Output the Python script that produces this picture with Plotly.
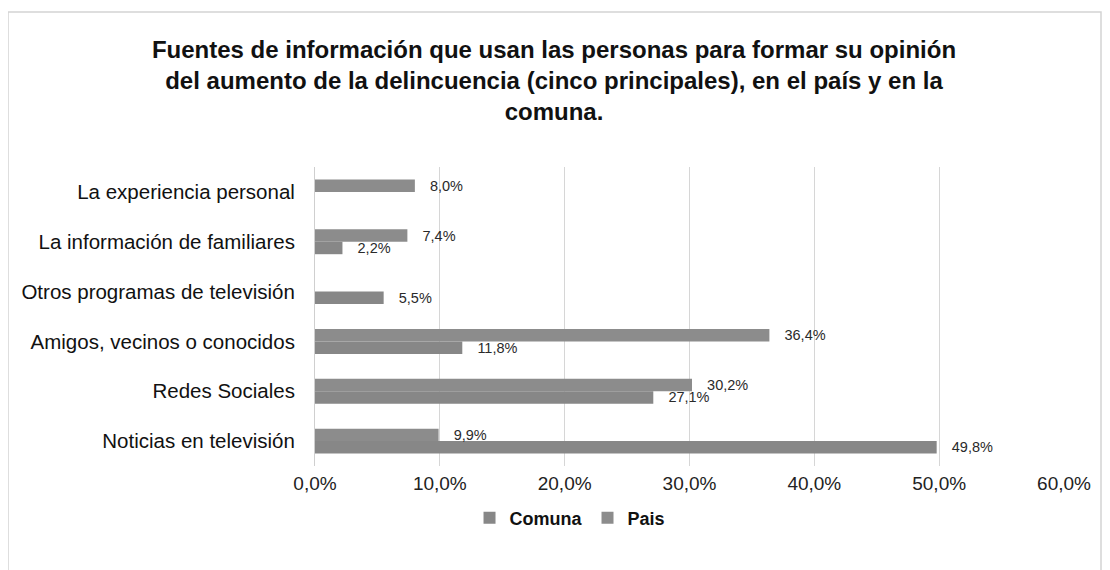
import plotly.graph_objects as go

categories = [
    "Noticias en televisión",
    "Redes Sociales",
    "Amigos, vecinos o conocidos",
    "Otros programas de televisión",
    "La información de familiares",
    "La experiencia personal",
]
comuna = [49.8, 27.1, 11.8, 5.5, 2.2, None]
pais = [9.9, 30.2, 36.4, None, 7.4, 8.0]
x_ticks = [0, 10, 20, 30, 40, 50, 60]

font = "Liberation Sans, Arial"
pad = "\u00a0\u00a0\u00a0"


def fmt(v):
    return None if v is None else pad + f"{v:.1f}".replace(".", ",") + "%"


fig = go.Figure()
fig.add_trace(go.Bar(
    y=categories, x=comuna, name="Comuna", orientation="h",
    marker=dict(color="#878787", line=dict(width=0)),
    text=[fmt(v) for v in comuna],
    textposition="outside", cliponaxis=False, constraintext="none",
    textfont=dict(family=font, size=14.5, color="#2a2a2a"),
))
fig.add_trace(go.Bar(
    y=categories, x=pais, name="Pais", orientation="h",
    marker=dict(color="#8c8c8c", line=dict(width=0)),
    text=[fmt(v) for v in pais],
    textposition="outside", cliponaxis=False, constraintext="none",
    textfont=dict(family=font, size=14.5, color="#2a2a2a"),
))

W, H = 1102, 562
L, R, T, B = 307, 46, 159, 104
pw, ph = W - L - R, H - T - B

fig.update_layout(
    width=W, height=H,
    barmode="group", bargap=0.5, bargroupgap=0,
    paper_bgcolor="white", plot_bgcolor="white",
    separators=",.",
    margin=dict(l=L, r=R, t=T, b=B, autoexpand=False),
    title=dict(
        text="Fuentes de información que usan las personas para formar su opinión<br>"
             "del aumento de la delincuencia (cinco principales), en el país y en la<br>"
             "comuna.",
        x=546 / W, xref="container", xanchor="center",
        y=1 - 50 / H, yref="container", yanchor="middle",
        font=dict(family=font, size=24, color="#111111", weight="bold"),
    ),
    xaxis=dict(
        range=[0, 60], tickvals=x_ticks,
        ticktext=[f"{v:.1f}".replace(".", ",") + "%" for v in x_ticks],
        showgrid=True, gridcolor="#d6d6d6", gridwidth=1,
        zeroline=False, showline=False, ticks="",
        tickfont=dict(family=font, size=19, color="#222222"),
        ticklabelstandoff=4,
    ),
    yaxis=dict(
        showgrid=False, zeroline=False, showline=True, linecolor="#cfcfcf",
        ticks="", tickfont=dict(family=font, size=20.5, color="#111111"),
        ticklabelstandoff=15,
    ),
    legend=dict(
        orientation="h", x=0.51, xref="container", xanchor="center",
        y=1 - 510 / H, yref="container", yanchor="middle",
        font=dict(family=font, size=18, color="#111111", weight="bold"),
        itemwidth=30, traceorder="normal",
    ),
    showlegend=True,
    shapes=[dict(type="rect", xref="paper", yref="paper",
                 x0=(0 - L) / pw, x1=(1093 - L) / pw,
                 y0=-0.5, y1=(H - B - 4) / ph,
                 line=dict(color="#d4d4d4", width=1.5))],
)

fig.write_html("out.html")
